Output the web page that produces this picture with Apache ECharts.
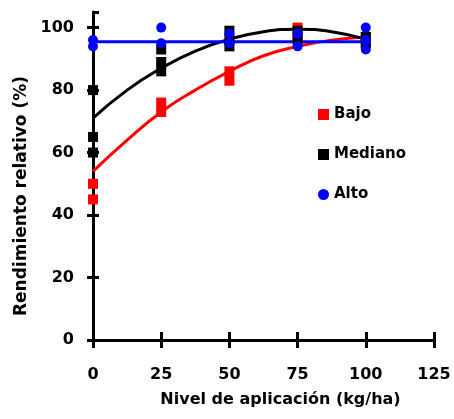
<!DOCTYPE html>
<html>
<head>
<meta charset="utf-8">
<script src="https://cdn.jsdelivr.net/npm/echarts@6/dist/echarts.min.js"></script>
<style>html,body{margin:0;padding:0;background:#fff}#c{width:454px;height:419px}</style>
</head>
<body>
<div id="c"></div>
<script>
// Observed points [x, y]
var bajoPts = [[0,50],[0,45],[25,76],[25,73],[50,86],[50,83],[75,100],[75,97],[100,97],[100,95]];
var medianoPts = [[0,80],[0,65],[0,60],[25,93],[25,89],[25,86],[50,99],[50,96],[50,94],[75,99],[75,96],[100,97],[100,95]];
var altoPts = [[0,96],[0,94],[25,100],[25,95],[50,98],[50,95],[75,98],[75,94],[100,100],[100,96],[100,93]];
// Fitted curves
var curveX = [0,12.5,25,37.5,50,62.5,75,87.5,100];
var bajoCurve = [54,64,73,80,86,91,94,96,97];
var medianoCurve = [71,80,87,92.5,96.3,98.7,99.5,98.7,96.3];
var altoCurveX = [0,100];
var altoCurve = [95.5,95.5];
var xTicks = [0,25,50,75,100,125];
var yTicks = [0,20,40,60,80,100];

function zip(xs, ys){ return xs.map(function(x,i){ return [x, ys[i]]; }); }

var font = 'DejaVu Sans, sans-serif';
var chart = echarts.init(document.getElementById('c'));
var axisLine = {show:true, lineStyle:{color:'#000', width:3}};
chart.setOption({
  animation:false,
  grid:{left:93, right:20, top:12, bottom:79},
  legend:{
    left:313, top:102, orient:'vertical', itemWidth:11, itemHeight:11, itemGap:25,
    textStyle:{fontFamily:font, fontWeight:'bold', fontSize:15, color:'#000'},
    data:[{name:'Bajo', icon:'rect'},{name:'Mediano', icon:'rect'},{name:'Alto', icon:'circle'}]
  },
  xAxis:[{
    type:'value', min:0, max:125, interval:25,
    axisLine:axisLine,
    axisTick:{show:true, length:8, lineStyle:{color:'#000', width:3}},
    axisLabel:{fontFamily:font, fontWeight:'bold', fontSize:16, color:'#000', margin:27,
      formatter:function(v){ return xTicks.indexOf(v)>=0 ? String(v) : ''; }},
    splitLine:{show:false},
    name:'Nivel de aplicación (kg/ha)', nameLocation:'middle', nameGap:52,
    nameTextStyle:{fontFamily:font, fontWeight:'bold', fontSize:16, color:'#000', padding:[0,0,0,34]}
  },{
    type:'value', min:0, max:125, interval:25, position:'bottom',
    axisLine:{show:false},
    axisTick:{show:true, inside:true, length:8, lineStyle:{color:'#000', width:3}},
    axisLabel:{show:false}, splitLine:{show:false}
  }],
  yAxis:[{
    type:'value', min:0, max:105, interval:20,
    axisLine:axisLine,
    axisTick:{show:true, length:6, lineStyle:{color:'#000', width:3}},
    axisLabel:{fontFamily:font, fontWeight:'bold', fontSize:16, color:'#000', margin:19, showMaxLabel:false,
      formatter:function(v){ return yTicks.indexOf(v)>=0 ? String(v) : ''; }},
    splitLine:{show:false},
    name:'Rendimiento relativo (%)', nameLocation:'middle', nameGap:59, nameRotate:90,
    nameTextStyle:{fontFamily:font, fontWeight:'bold', fontSize:17, color:'#000', padding:[0,40,0,0]}
  },{
    type:'value', min:0, max:105, interval:20, position:'left',
    axisLine:{show:false},
    axisTick:{show:true, inside:true, length:6, lineStyle:{color:'#000', width:3}},
    axisLabel:{show:false}, splitLine:{show:false}
  }],
  series:[
    {name:'BajoFit', type:'line', smooth:true, symbol:'none', data:zip(curveX,bajoCurve),
      lineStyle:{color:'#ff0000', width:3}, z:2},
    {name:'MedianoFit', type:'line', smooth:true, symbol:'none', data:zip(curveX,medianoCurve),
      lineStyle:{color:'#000', width:3}, z:2},
    {name:'AltoFit', type:'line', symbol:'none', data:zip(altoCurveX,altoCurve),
      lineStyle:{color:'#0000ff', width:3}, z:3},
    {name:'Bajo', type:'scatter', symbol:'rect', symbolSize:10, data:bajoPts,
      itemStyle:{color:'#ff0000', opacity:1}, z:4},
    {name:'Mediano', type:'scatter', symbol:'rect', symbolSize:10, data:medianoPts,
      itemStyle:{color:'#000', opacity:1}, z:4},
    {name:'Alto', type:'scatter', symbol:'circle', symbolSize:10, data:altoPts,
      itemStyle:{color:'#0000ff', opacity:1}, z:5}
  ]
});
</script>
</body>
</html>
